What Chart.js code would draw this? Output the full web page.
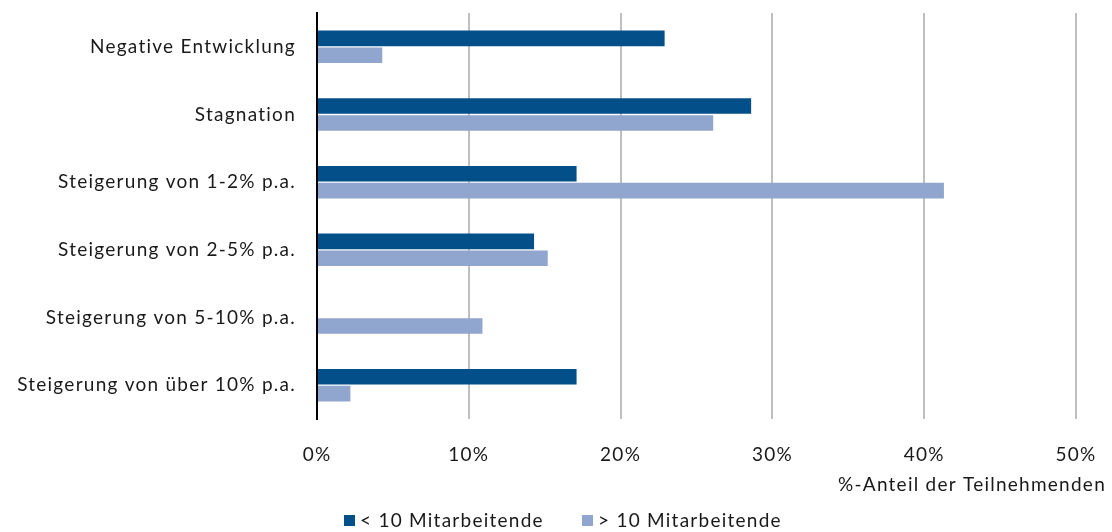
<!DOCTYPE html>
<html>
<head>
<meta charset="utf-8">
<script src="https://cdn.jsdelivr.net/npm/chart.js@4/dist/chart.umd.min.js"></script>
<style>
  html, body { margin: 0; padding: 0; background: #fff; }
  #wrap { width: 1112px; height: 532px; position: relative; }
</style>
</head>
<body>
<div id="wrap"><canvas id="c" width="1112" height="532"></canvas></div>
<script>
// Kategorien (Erwartete Umsatzentwicklung)
const categories = [
  'Negative Entwicklung',
  'Stagnation',
  'Steigerung von 1-2% p.a.',
  'Steigerung von 2-5% p.a.',
  'Steigerung von 5-10% p.a.',
  'Steigerung von über 10% p.a.'
];
// Anteile in % je Unternehmensgröße
const kleinUnternehmen = [22.9, 28.6, 17.1, 14.3, 0, 17.1];
const grossUnternehmen = [4.3, 26.1, 41.3, 15.2, 10.9, 2.2];
const seriesNames = ['< 10 Mitarbeitende', '> 10 Mitarbeitende'];
const seriesColors = ['#034F89', '#91A6CE'];
const xTicks = [0, 10, 20, 30, 40, 50];
const axisTitle = '%-Anteil der Teilnehmenden';

const FONT = 'Lato, "Open Sans", sans-serif';
const FONT_SIZE = 19;
const SPACING = '1.25px';
const TEXT = '#1a1a1a';

// Text spacing applied to every label the chart measures and draws
const spacingPlugin = {
  id: 'textSpacing',
  beforeUpdate(chart) { chart.ctx.letterSpacing = SPACING; },
  beforeDraw(chart) { chart.ctx.letterSpacing = SPACING; }
};

// Axis title (right-aligned) and the legend row underneath
const extrasPlugin = {
  id: 'extras',
  afterDraw(chart) {
    const ctx = chart.ctx;
    const area = chart.chartArea;
    ctx.save();
    ctx.letterSpacing = SPACING;
    ctx.font = FONT_SIZE + 'px ' + FONT;
    ctx.fillStyle = TEXT;
    ctx.textBaseline = 'middle';
    ctx.textAlign = 'right';
    ctx.fillText(axisTitle, area.right + 30, area.bottom + 66);

    // legend
    const y = 521;
    const items = [{ x: 344 }, { x: 582 }];
    ctx.textAlign = 'left';
    items.forEach((it, i) => {
      ctx.fillStyle = seriesColors[i];
      ctx.fillRect(it.x, y - 6, 11, 11);
      ctx.fillStyle = TEXT;
      ctx.fillText(seriesNames[i], it.x + 16, y);
    });
    ctx.restore();
  }
};

new Chart(document.getElementById('c'), {
  type: 'bar',
  data: {
    labels: categories,
    datasets: [
      { label: seriesNames[0], data: kleinUnternehmen, backgroundColor: seriesColors[0] },
      { label: seriesNames[1], data: grossUnternehmen, backgroundColor: seriesColors[1] }
    ]
  },
  options: {
    indexAxis: 'y',
    responsive: false,
    animation: false,
    categoryPercentage: 0.5,
    barPercentage: 0.92,
    layout: { padding: { left: 0, top: 13, right: 36, bottom: 41 } },
    scales: {
      x: {
        min: 0, max: 50,
        afterBuildTicks(scale) { scale.ticks = xTicks.map(v => ({ value: v })); },
        afterFit(scale) {
          scale.height = 72;
          scale.paddingLeft = 0;
          scale.paddingRight = 0;
        },
        grid: { color: '#BFBFBF', lineWidth: 2, drawTicks: false, drawOnChartArea: true },
        border: { display: false },
        ticks: {
          padding: 24,
          color: TEXT,
          font: { family: FONT, size: FONT_SIZE },
          callback: v => v + '%'
        }
      },
      y: {
        afterFit(scale) {
          scale.width = 317;
          scale.paddingTop = 0;
          scale.paddingBottom = 0;
        },
        grid: { display: false, drawTicks: false },
        border: { display: true, color: '#000', width: 2 },
        ticks: {
          padding: 21,
          color: TEXT,
          font: { family: FONT, size: FONT_SIZE }
        }
      }
    },
    plugins: {
      legend: { display: false },
      tooltip: { enabled: false }
    }
  },
  plugins: [spacingPlugin, extrasPlugin]
});
</script>
</body>
</html>
